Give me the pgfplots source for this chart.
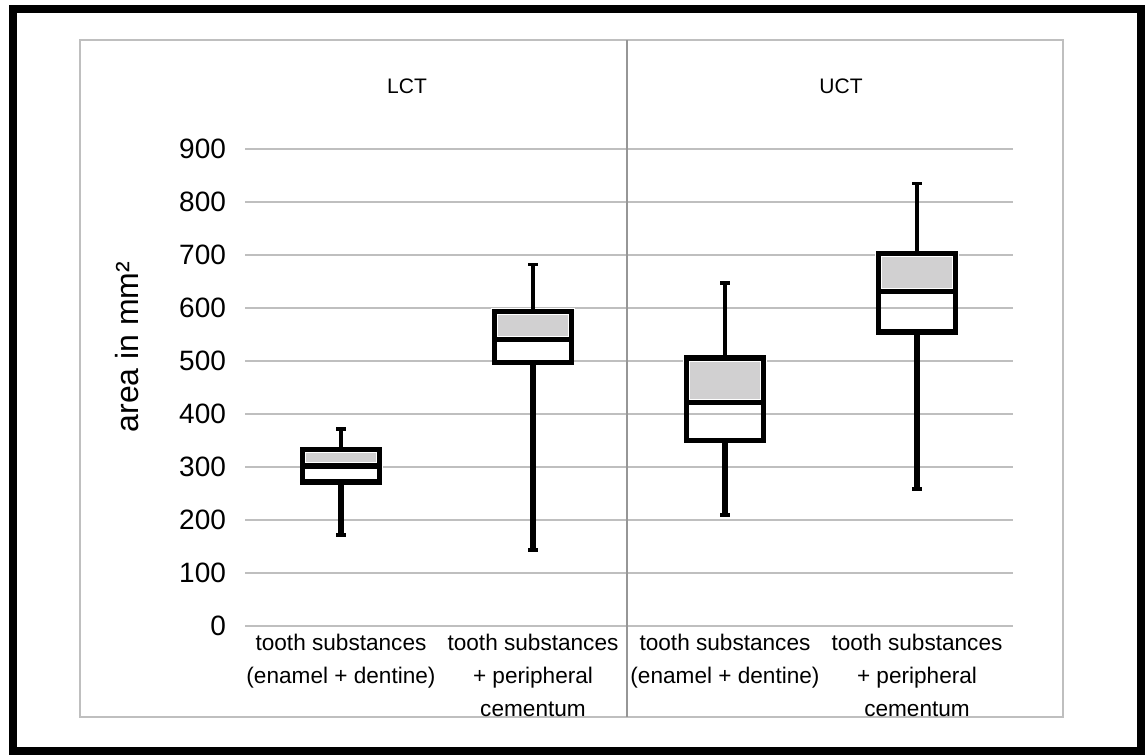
\documentclass[border=0pt]{standalone}
\usepackage{fontspec}
\setmainfont{Liberation Sans}
\usepackage{pgfplots}
\pgfplotsset{compat=1.18}
\definecolor{gridgray}{RGB}{191,191,191}
\definecolor{boxgray}{RGB}{209,208,209}
\definecolor{sepgray}{RGB}{150,150,150}
\begin{document}
\begin{tikzpicture}
\useasboundingbox (0,0) rectangle (572.5pt,377.5pt);
\fill[white] (0,0) rectangle (572.5pt,377.5pt);
\draw[black, line width=4pt] (6.5pt,2pt) rectangle (570.5pt,373pt);
\draw[gridgray, line width=0.75pt] (40pt,19pt) rectangle (531.5pt,357.5pt);
\begin{axis}[
  at={(122.5pt,64.5pt)}, anchor=south west, scale only axis,
  width=384pt, height=238.5pt,
  xmin=0, xmax=4, ymin=0, ymax=900,
  axis line style={draw=none},
  ymajorgrids, grid style={gridgray, line width=0.6pt},
  ytick={0,100,...,900},
  xtick={0.5,1.5,2.5,3.5},
  xticklabels={{tooth substances\\(enamel + dentine)},{tooth substances\\+ peripheral\\cementum},{tooth substances\\(enamel + dentine)},{tooth substances\\+ peripheral\\cementum}},
  major tick length=0pt,
  tick style={draw=none},
  /pgf/number format/assume math mode=true,
  yticklabel style={font=\fontsize{14}{16}\selectfont, xshift=-6pt},
  xticklabel style={font=\fontsize{11.3}{16.5}\selectfont, align=center, yshift=-0.5pt},
  clip=false,
]
% grey upper halves (median to upper quartile)
\addplot[fill=boxgray, draw=white, line width=3.7pt] coordinates {(0.3,302) (0.7,302) (0.7,333) (0.3,333) (0.3,302)};
\addplot[fill=boxgray, draw=white, line width=3.7pt] coordinates {(1.3,540) (1.7,540) (1.7,593) (1.3,593) (1.3,540)};
\addplot[fill=boxgray, draw=white, line width=3.7pt] coordinates {(2.3,422) (2.7,422) (2.7,506) (2.3,506) (2.3,422)};
\addplot[fill=boxgray, draw=white, line width=3.7pt] coordinates {(3.3,631) (3.7,631) (3.7,703) (3.3,703) (3.3,631)};
% lower whiskers
\addplot[black, line width=2.6pt] coordinates {(0.5,172) (0.5,272)};
\addplot[black, line width=2.6pt] coordinates {(1.5,143) (1.5,497)};
\addplot[black, line width=2.6pt] coordinates {(2.5,209) (2.5,350)};
\addplot[black, line width=2.6pt] coordinates {(3.5,258) (3.5,555)};
% upper whiskers
\addplot[black, line width=1.7pt] coordinates {(0.5,333) (0.5,372)};
\addplot[black, line width=1.7pt] coordinates {(1.5,593) (1.5,682)};
\addplot[black, line width=1.7pt] coordinates {(2.5,506) (2.5,647)};
\addplot[black, line width=1.7pt] coordinates {(3.5,703) (3.5,835)};
% whisker caps
\addplot[black, line width=1.9pt] coordinates {(0.475,172) (0.525,172)};
\addplot[black, line width=1.9pt] coordinates {(0.475,372) (0.525,372)};
\addplot[black, line width=1.9pt] coordinates {(1.475,143) (1.525,143)};
\addplot[black, line width=1.9pt] coordinates {(1.475,682) (1.525,682)};
\addplot[black, line width=1.9pt] coordinates {(2.475,209) (2.525,209)};
\addplot[black, line width=1.9pt] coordinates {(2.475,647) (2.525,647)};
\addplot[black, line width=1.9pt] coordinates {(3.475,258) (3.525,258)};
\addplot[black, line width=1.9pt] coordinates {(3.475,835) (3.525,835)};
% boxes (lower quartile to upper quartile)
\addplot[black, fill=none, line width=2.7pt, line cap=rect] coordinates {(0.3,272) (0.7,272) (0.7,333) (0.3,333) (0.3,272)};
\addplot[black, fill=none, line width=2.7pt, line cap=rect] coordinates {(1.3,497) (1.7,497) (1.7,593) (1.3,593) (1.3,497)};
\addplot[black, fill=none, line width=2.7pt, line cap=rect] coordinates {(2.3,350) (2.7,350) (2.7,506) (2.3,506) (2.3,350)};
\addplot[black, fill=none, line width=2.7pt, line cap=rect] coordinates {(3.3,555) (3.7,555) (3.7,703) (3.3,703) (3.3,555)};
% medians
\addplot[black, line width=2.7pt] coordinates {(0.3,302) (0.7,302)};
\addplot[black, line width=2.7pt] coordinates {(1.3,540) (1.7,540)};
\addplot[black, line width=2.7pt] coordinates {(2.3,422) (2.7,422)};
\addplot[black, line width=2.7pt] coordinates {(3.3,631) (3.7,631)};
\end{axis}
\draw[sepgray, line width=0.6pt] (313.5pt,19pt) -- (313.5pt,357.5pt);
\node[rotate=90, font=\fontsize{16}{18}\selectfont] at (63.5pt,204pt) {area in mm²};
\node[font=\fontsize{10.5}{12}\selectfont] at (203.5pt,334.5pt) {LCT};
\node[font=\fontsize{10.5}{12}\selectfont] at (420.5pt,334.5pt) {UCT};
\end{tikzpicture}
\end{document}
